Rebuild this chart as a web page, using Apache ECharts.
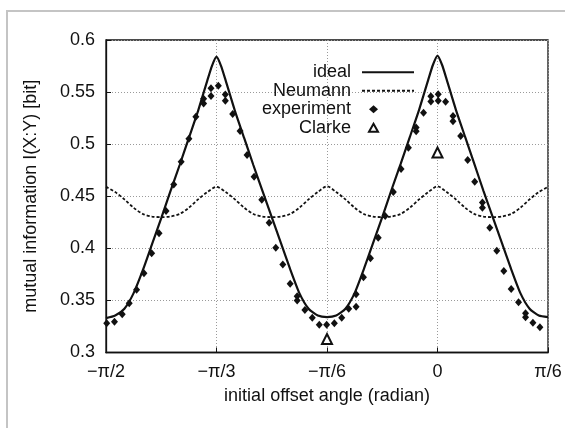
<!DOCTYPE html>
<html>
<head>
<meta charset="utf-8">
<script src="https://cdn.jsdelivr.net/npm/echarts@6/dist/echarts.min.js"></script>
<style>
html,body{margin:0;padding:0;background:#fff;}
#chart{width:565px;height:428px;}
</style>
</head>
<body>
<div id="chart"></div>
<script>
// x axis in degrees; ticks labelled in multiples of pi/6
const tickValues = [-90, -60, -30, 0, 30];
const tickLabels = ['\u2212\u03c0/2', '\u2212\u03c0/3', '\u2212\u03c0/6', '0', '\u03c0/6'];
const yTickValues = [0.3, 0.35, 0.4, 0.45, 0.5, 0.55, 0.6];
const yTickLabels = ['0.3', '0.35', '0.4', '0.45', '0.5', '0.55', '0.6'];

const idealAngle = [-90,-87.5,-85,-82.5,-80,-77.5,-75,-72.5,-70,-67.5,-65,-62.5,-61.25,-60,-58.75,
  -57.5,-55,-52.5,-50,-47.5,-45,-42.5,-40,-37.5,-35,-32.5,-30,-27.5,-25,-22.5,-20,-17.5,-15,-12.5,-10,-7.5,-5,-2.5,
  -1.25,0,1.25,2.5,5,7.5,10,12.5,15,17.5,20,22.5,25,27.5,30];
const idealValue = [0.333,0.3355,0.342,0.357,0.379,0.404,0.429,0.455,0.480,0.506,0.532,0.561,0.575,0.584,0.575,
  0.561,0.532,0.506,0.480,0.455,0.430,0.405,0.380,0.357,0.342,0.3355,0.334,0.3355,0.342,0.357,0.380,0.405,0.430,0.456,0.481,0.507,0.533,0.562,
  0.576,0.585,0.576,0.562,0.533,0.507,0.481,0.455,0.430,0.405,0.380,0.357,0.342,0.3355,0.334];

const neumannAngle = [-90,-87.5,-85,-82.5,-80,-77.5,-75,-72.5,-70,-67.5,-65,-62.5,-60,-57.5,-55,-52.5,-50,-47.5,-45,
  -42.5,-40,-37.5,-35,-32.5,-30,-27.5,-25,-22.5,-20,-17.5,-15,-12.5,-10,-7.5,-5,-2.5,0,2.5,5,7.5,10,12.5,15,17.5,20,22.5,25,27.5,30];
const neumannValue = [0.459,0.454,0.447,0.439,0.433,0.4305,0.430,0.4305,0.433,0.439,0.447,0.454,0.459,0.454,0.447,0.439,0.433,0.4305,0.430,
  0.4305,0.433,0.439,0.447,0.454,0.4595,0.454,0.447,0.439,0.433,0.4305,0.430,0.4305,0.433,0.439,0.447,0.454,0.4595,0.454,0.447,0.439,0.433,0.4305,0.430,0.4305,0.433,0.439,0.447,0.454,0.459];

const expAngle = [-89.8,-87.7,-85.6,-83.7,-81.7,-79.7,-77.6,-75.6,-73.7,-71.6,-69.6,-67.5,-65.6,-63.5,-63.5,-61.5,-61.5,-59.5,-57.6,-57.6,
  -55.6,-53.6,-51.7,-49.8,-47.7,-45.7,-43.9,-42.0,-40.0,-38.1,-38.1,-36.0,-34.0,-32.1,-30.1,-28.0,-26.0,-24.1,-22.1,-22.1,
  -20.1,-18.2,-16.1,-14.2,-12.0,-9.9,-7.9,-5.8,-5.8,-3.8,-1.8,-1.8,0.2,0.2,2.2,4.2,4.2,6.3,8.2,10.1,
  12.2,12.2,14.2,16.1,18.0,20.0,22.0,23.9,23.9,25.9,27.8];
const expValue = [0.328,0.3296,0.3367,0.3472,0.3603,0.376,0.3952,0.4144,0.4358,0.4613,0.4832,0.5053,0.5264,0.539,0.5435,0.5462,0.5536,0.5562,0.5418,0.5478,
  0.529,0.5126,0.4896,0.4688,0.4467,0.4246,0.4006,0.3845,0.366,0.350,0.354,0.3408,0.3334,0.3267,0.3267,0.328,0.3334,0.342,0.344,0.356,
  0.3722,0.3904,0.4102,0.431,0.4541,0.4762,0.4966,0.5125,0.516,0.5302,0.541,0.546,0.5417,0.548,0.5408,0.522,0.527,0.5078,0.4848,0.464,
  0.439,0.444,0.4198,0.3977,0.3782,0.361,0.3482,0.3338,0.3376,0.3286,0.3242];

const clarkeAngle = [-30, 0];
const clarkeValue = [0.313, 0.492];

const zip = (a, b) => a.map((v, i) => [v, b[i]]);
const FONT = "'Liberation Sans', Arial, Helvetica, sans-serif";
const INK = '#111';

const chart = echarts.init(document.getElementById('chart'), null, {renderer: 'canvas'});
chart.setOption({
  animation: false,
  backgroundColor: '#fff',
  textStyle: {fontFamily: FONT, color: INK},
  graphic: [{
    type: 'rect', silent: true, z: -10,
    shape: {x: 7, y: 11, width: 700, height: 600},
    style: {fill: 'none', stroke: '#c4c4c4', lineWidth: 2}
  }],
  grid: {left: 106, right: 17, top: 40, bottom: 75.5, show: true, borderColor: INK, borderWidth: 1.3, backgroundColor: 'transparent'},
  legend: [{
    data: ['ideal', 'Neumann'], orient: 'vertical', align: 'right', right: 150, top: 63.3, padding: 0,
    itemWidth: 52, itemHeight: 18, itemGap: 0.4, selectedMode: false,
    itemStyle: {opacity: 0},
    textStyle: {fontFamily: FONT, fontSize: 18, lineHeight: 18, color: INK, padding: [0, 6, 0, 0]}
  }, {
    data: ['experiment', 'Clarke'], orient: 'vertical', align: 'right', right: 186, top: 100.3, padding: 0,
    itemWidth: 9, itemHeight: 8, itemGap: 0.4, selectedMode: false,
    textStyle: {fontFamily: FONT, fontSize: 18, lineHeight: 18, color: INK, padding: [0, 13, 0, 0]}
  }],
  xAxis: {
    type: 'value', min: -90, max: 30, interval: 30,
    name: 'initial offset angle (radian)', nameLocation: 'middle', nameGap: 35,
    nameTextStyle: {fontFamily: FONT, fontSize: 18, lineHeight: 18, color: INK},
    axisLine: {show: true, onZero: false, lineStyle: {color: INK, width: 1.3}},
    axisTick: {show: true, inside: true, length: 5, lineStyle: {color: INK}},
    axisLabel: {fontFamily: FONT, fontSize: 18, color: INK, margin: 11,
      formatter: v => { const i = tickValues.indexOf(Math.round(v)); return i >= 0 ? tickLabels[i] : ''; }},
    splitLine: {show: true, lineStyle: {color: '#9a9a9a', type: [1, 2], width: 1}}
  },
  yAxis: {
    type: 'value', min: 0.3, max: 0.6, interval: 0.05,
    name: 'mutual information I(X:Y) [bit]', nameLocation: 'middle', nameGap: 66,
    nameTextStyle: {fontFamily: FONT, fontSize: 18, lineHeight: 18, color: INK},
    axisLine: {show: true, onZero: false, lineStyle: {color: INK, width: 1.3}},
    axisTick: {show: true, inside: true, length: 5, lineStyle: {color: INK}},
    axisLabel: {fontFamily: FONT, fontSize: 18, color: INK, margin: 11, padding: [4, 0, 0, 0],
      formatter: v => { let best = 0; yTickValues.forEach((t, i) => { if (Math.abs(t - v) < Math.abs(yTickValues[best] - v)) best = i; }); return yTickLabels[best]; }},
    splitLine: {show: true, lineStyle: {color: '#9a9a9a', type: [1, 2], width: 1}}
  },
  series: [{
    name: 'ideal', type: 'line', data: zip(idealAngle, idealValue), symbol: 'none', smooth: 0.2,
    lineStyle: {color: INK, width: 2.2}, itemStyle: {color: INK}, z: 3
  }, {
    name: 'Neumann', type: 'line', data: zip(neumannAngle, neumannValue), symbol: 'none', smooth: 0.3,
    lineStyle: {color: INK, width: 1.8, type: [3, 2]}, itemStyle: {color: INK}, z: 2
  }, {
    name: 'experiment', type: 'scatter', data: zip(expAngle, expValue), symbol: 'diamond', symbolSize: [7, 8],
    itemStyle: {color: INK, opacity: 1}, z: 4
  }, {
    name: 'Clarke', type: 'scatter', data: zip(clarkeAngle, clarkeValue), symbol: 'triangle', symbolSize: 10,
    itemStyle: {color: '#fff', borderColor: INK, borderWidth: 2, opacity: 1}, z: 5
  }]
});
</script>
</body>
</html>
